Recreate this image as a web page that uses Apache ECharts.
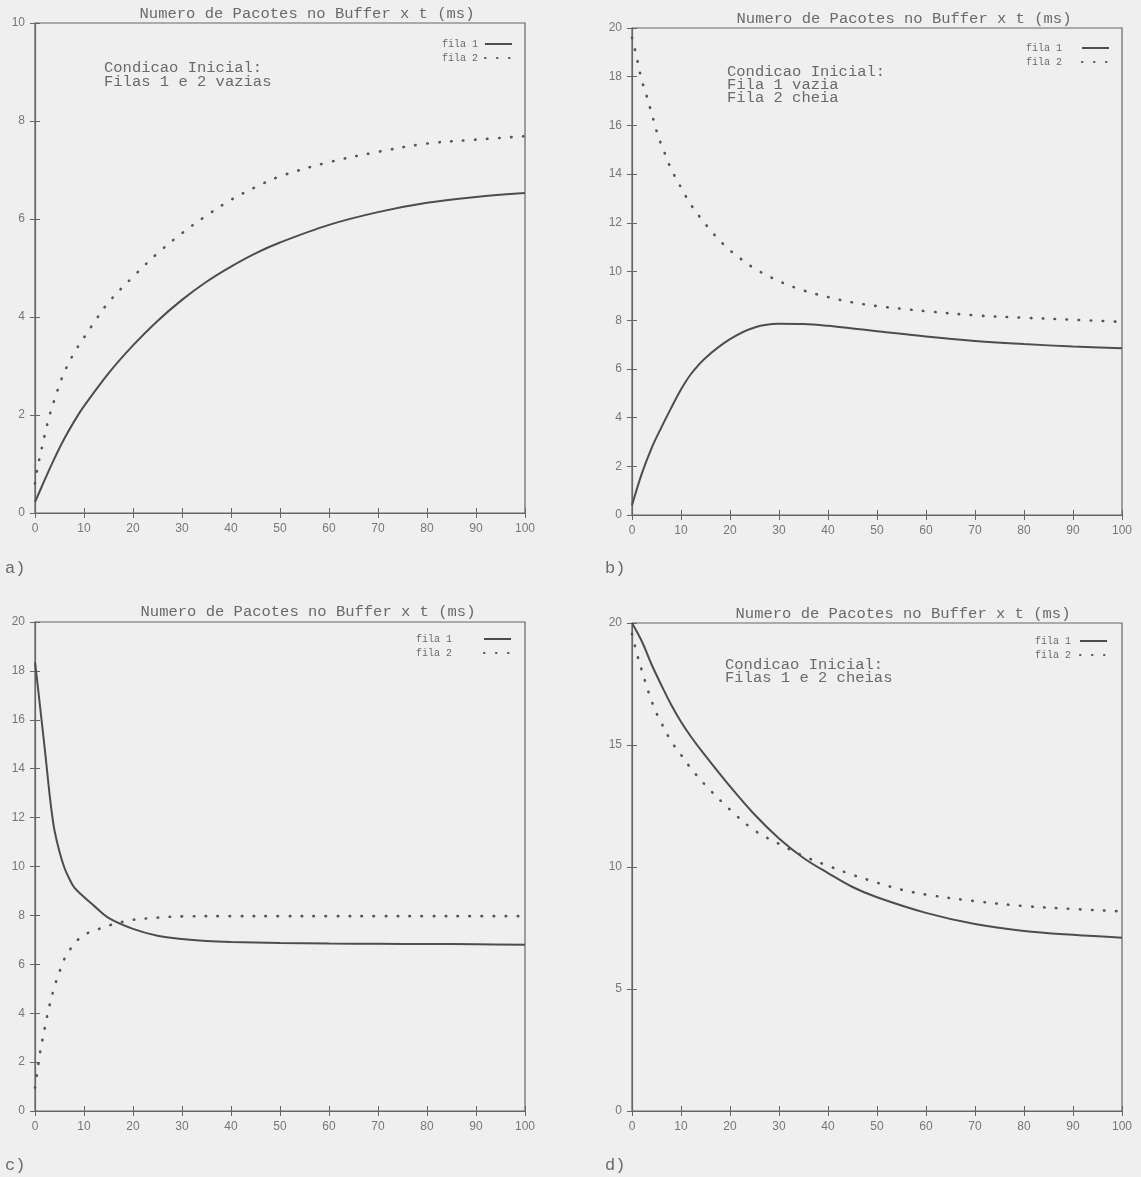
<!DOCTYPE html>
<html><head><meta charset="utf-8">
<script src="https://cdn.jsdelivr.net/npm/echarts@6/dist/echarts.min.js"></script>
<style>html,body{margin:0;padding:0;background:#efefef;}#c{width:1141px;height:1177px;}</style>
</head><body><div id="c"></div>
<script>
// ---------- data ----------
const TITLE = 'Numero de Pacotes no Buffer x t (ms)';
const SERIES_NAMES = ['fila 1', 'fila 2'];
const PANEL_LABELS = ['a)', 'b)', 'c)', 'd)'];
const NOTES = [
  ['Condicao Inicial:', 'Filas 1 e 2 vazias'],
  ['Condicao Inicial:', 'Fila 1 vazia', 'Fila 2 cheia'],
  null,
  ['Condicao Inicial:', 'Filas 1 e 2 cheias']
];
const X_TICKS = [0, 10, 20, 30, 40, 50, 60, 70, 80, 90, 100];
const Y_TICKS_A = [0, 2, 4, 6, 8, 10];
const Y_TICKS_B = [0, 2, 4, 6, 8, 10, 12, 14, 16, 18, 20];
const Y_TICKS_C = [0, 2, 4, 6, 8, 10, 12, 14, 16, 18, 20];
const Y_TICKS_D = [0, 5, 10, 15, 20];

// panel a
const a1_t = [0, 2, 4, 6, 8, 10, 15, 20, 25, 30, 35, 40, 45, 50, 60, 70, 80, 90, 100];
const a1_v = [0.22, 0.68, 1.12, 1.52, 1.87, 2.18, 2.85, 3.42, 3.92, 4.35, 4.72, 5.03, 5.3, 5.52, 5.88, 6.14, 6.33, 6.45, 6.53];
const a2_t = [0, 0.5, 1, 2, 3, 4, 5, 6, 8, 10, 12, 15, 20, 25, 30, 35, 40, 45, 50, 60, 70, 80, 90, 100];
const a2_v = [0.6, 0.92, 1.15, 1.6, 2.0, 2.32, 2.62, 2.88, 3.27, 3.58, 3.88, 4.3, 4.82, 5.3, 5.71, 6.07, 6.39, 6.65, 6.87, 7.16, 7.37, 7.54, 7.62, 7.69];
// panel b
const b1_t = [0, 2, 4, 6, 8, 10, 12, 15, 20, 25, 30, 35, 40, 45, 50, 60, 70, 80, 90, 100];
const b1_v = [0.4, 1.7, 2.75, 3.6, 4.4, 5.15, 5.78, 6.45, 7.22, 7.7, 7.85, 7.84, 7.77, 7.66, 7.55, 7.33, 7.15, 7.02, 6.92, 6.85];
const b2_t = [0, 0.5, 1, 2, 3, 4, 5, 6, 7, 8, 10, 12, 14, 16, 18, 20, 22, 25, 28, 30, 35, 40, 45, 50, 55, 60, 70, 80, 90, 100];
const b2_v = [19.6, 19.2, 18.75, 17.85, 17.2, 16.5, 15.78, 15.2, 14.7, 14.2, 13.45, 12.75, 12.2, 11.7, 11.25, 10.87, 10.55, 10.12, 9.8, 9.6, 9.22, 8.95, 8.73, 8.58, 8.47, 8.37, 8.2, 8.1, 8.02, 7.93];
// panel c
const c1_t = [0, 0.5, 1, 1.5, 2, 2.5, 3, 3.5, 4, 5, 6, 7, 8, 10, 12, 15, 20, 25, 30, 35, 40, 50, 60, 70, 80, 90, 100];
const c1_v = [18.35, 17.5, 16.6, 15.7, 14.8, 13.85, 12.9, 12.1, 11.45, 10.6, 9.95, 9.5, 9.15, 8.75, 8.4, 7.9, 7.45, 7.17, 7.03, 6.95, 6.91, 6.87, 6.85, 6.84, 6.83, 6.82, 6.8];
const c2_t = [0, 0.5, 1, 1.5, 2, 2.5, 3, 4, 5, 6, 7, 8, 10, 12, 15, 18, 20, 25, 30, 40, 50, 60, 70, 80, 90, 100];
const c2_v = [0.95, 1.65, 2.35, 2.9, 3.4, 3.9, 4.35, 5.1, 5.7, 6.22, 6.55, 6.85, 7.2, 7.37, 7.58, 7.74, 7.82, 7.91, 7.96, 7.97, 7.97, 7.97, 7.97, 7.97, 7.97, 7.97];
// panel d
const d1_t = [0, 2, 4, 6, 8, 10, 12, 15, 20, 25, 30, 35, 40, 45, 50, 60, 70, 80, 90, 100];
const d1_v = [20, 19.25, 18.3, 17.45, 16.65, 15.95, 15.35, 14.55, 13.3, 12.15, 11.17, 10.37, 9.75, 9.18, 8.76, 8.12, 7.66, 7.38, 7.22, 7.1];
const d2_t = [0, 1, 2, 3, 4, 5, 6, 8, 10, 12, 15, 20, 25, 30, 35, 40, 45, 50, 55, 60, 70, 80, 90, 100];
const d2_v = [19.55, 18.75, 18.05, 17.4, 16.8, 16.3, 15.9, 15.15, 14.6, 14.05, 13.35, 12.35, 11.5, 10.95, 10.45, 10.05, 9.68, 9.36, 9.07, 8.87, 8.6, 8.4, 8.28, 8.18];

// ---------- layout / style ----------
const panels = [
  { grid: {left: 35, top: 23, width: 490, height: 490}, yTicks: Y_TICKS_A, s1: [a1_t, a1_v], s2: [a2_t, a2_v],
    titleXY: [307, 14], noteXY: [104, 61], noteLH: 14, legend: {right: 628, top: 39, pad: 2}, labelXY: [5, 568] },
  { grid: {left: 632, top: 28, width: 490, height: 487}, yTicks: Y_TICKS_B, s1: [b1_t, b1_v], s2: [b2_t, b2_v],
    titleXY: [904, 19], noteXY: [727, 65], noteLH: 13, legend: {right: 31, top: 43, pad: 15}, labelXY: [605, 568] },
  { grid: {left: 35, top: 622, width: 490, height: 489}, yTicks: Y_TICKS_C, s1: [c1_t, c1_v], s2: [c2_t, c2_v],
    titleXY: [308, 612], noteXY: null, noteLH: 13, legend: {right: 629, top: 634, pad: 27}, labelXY: [5, 1165] },
  { grid: {left: 632, top: 623, width: 490, height: 488}, yTicks: Y_TICKS_D, s1: [d1_t, d1_v], s2: [d2_t, d2_v],
    titleXY: [903, 614], noteXY: [725, 658], noteLH: 13.5, legend: {right: 33, top: 636, pad: 4}, labelXY: [605, 1165] }
];

const TXT = '#6a6a6a';
const MONO = '"Liberation Mono", "DejaVu Sans Mono", monospace';
const SANS = '"Liberation Sans", Arial, sans-serif';

const pairs = (t, v) => t.map((x, i) => [x, v[i]]);

const grids = [], xAxes = [], yAxes = [], series = [], legends = [], graphics = [];
panels.forEach((p, i) => {
  grids.push(Object.assign({show: true, borderColor: '#666', borderWidth: 1.2, backgroundColor: 'transparent'}, p.grid));
  const yMax = p.yTicks[p.yTicks.length - 1];
  const yStep = p.yTicks[1] - p.yTicks[0];
  const tick = {show: true, inside: true, length: 5, lineStyle: {color: '#666', width: 1}};
  xAxes.push({type: 'value', gridIndex: i, position: 'bottom', min: X_TICKS[0], max: X_TICKS[X_TICKS.length - 1], interval: X_TICKS[1] - X_TICKS[0],
    axisLine: {show: true, lineStyle: {color: '#666', width: 1.2}}, axisTick: tick, splitLine: {show: false},
    axisLabel: {show: true, color: '#777', fontFamily: SANS, fontSize: 12, margin: 10}});
  xAxes.push({type: 'value', gridIndex: i, position: 'top', min: X_TICKS[0], max: X_TICKS[X_TICKS.length - 1], interval: X_TICKS[1] - X_TICKS[0],
    axisLine: {show: false}, axisTick: tick, splitLine: {show: false}, axisLabel: {show: false}});
  yAxes.push({type: 'value', gridIndex: i, position: 'left', min: 0, max: yMax, interval: yStep,
    axisLine: {show: true, lineStyle: {color: '#666', width: 1.2}}, axisTick: tick, splitLine: {show: false},
    axisLabel: {show: true, color: '#777', fontFamily: SANS, fontSize: 12, margin: 10}});
  yAxes.push({type: 'value', gridIndex: i, position: 'right', min: 0, max: yMax, interval: yStep,
    axisLine: {show: false}, axisTick: tick, splitLine: {show: false}, axisLabel: {show: false}});

  series.push({name: SERIES_NAMES[0], type: 'line', xAxisIndex: 2 * i, yAxisIndex: 2 * i, data: pairs(p.s1[0], p.s1[1]),
    smooth: 0.35, symbol: 'none', lineStyle: {color: '#4d4d4d', width: 2}, itemStyle: {color: '#4d4d4d'}});
  series.push({name: SERIES_NAMES[1], type: 'line', xAxisIndex: 2 * i, yAxisIndex: 2 * i, data: pairs(p.s2[0], p.s2[1]),
    smooth: 0.35, symbol: 'none', lineStyle: {color: '#555', width: 2.6, type: [0.5, 11.5], cap: 'round'}, itemStyle: {color: '#555'}});

  legends.push({data: SERIES_NAMES, orient: 'vertical', align: 'right', right: p.legend.right, top: p.legend.top,
    itemWidth: 27, itemHeight: 8, itemGap: 4, selectedMode: false, padding: 0,
    itemStyle: {opacity: 0, borderWidth: 0},
    textStyle: {fontFamily: MONO, fontSize: 10, color: TXT, padding: [0, p.legend.pad, 0, 0]}});

  graphics.push({type: 'text', x: p.titleXY[0], y: p.titleXY[1],
    style: {text: TITLE, font: '15.5px ' + MONO, fill: TXT, textAlign: 'center', textVerticalAlign: 'middle', align: 'center', verticalAlign: 'middle'}});
  if (NOTES[i]) {
    graphics.push({type: 'text', x: p.noteXY[0], y: p.noteXY[1],
      style: {text: NOTES[i].join('\n'), font: '15.5px ' + MONO, fill: TXT, lineHeight: p.noteLH, textAlign: 'left', textVerticalAlign: 'top', align: 'left', verticalAlign: 'top'}});
  }
  graphics.push({type: 'text', x: p.labelXY[0], y: p.labelXY[1],
    style: {text: PANEL_LABELS[i], font: '17px ' + MONO, fill: TXT, textAlign: 'left', textVerticalAlign: 'middle', align: 'left', verticalAlign: 'middle'}});
});

const chart = echarts.init(document.getElementById('c'), null, {renderer: 'canvas'});
chart.setOption({
  backgroundColor: '#efefef',
  animation: false,
  grid: grids, xAxis: xAxes, yAxis: yAxes, series: series, legend: legends, graphic: graphics
});
</script>
</body></html>
